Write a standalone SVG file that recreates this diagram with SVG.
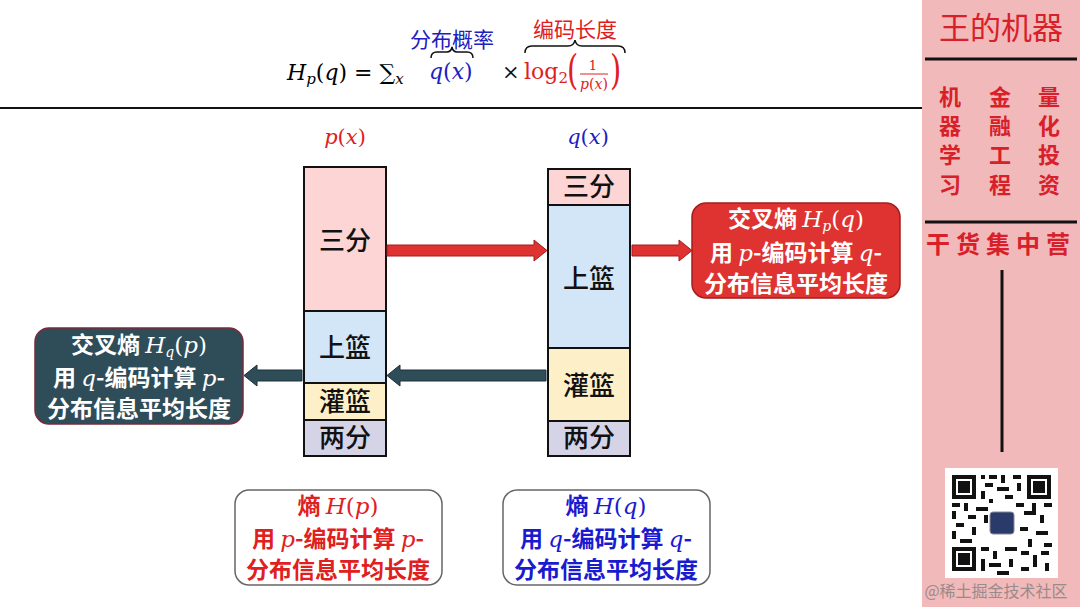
<svg xmlns="http://www.w3.org/2000/svg" width="1080" height="607" viewBox="0 0 1080 607">
<style>
.cn{font-family:"Noto Sans CJK SC","Noto Sans",sans-serif;}
.m{font-family:"DejaVu Serif","Liberation Serif",serif;font-style:italic;font-weight:400;}
.mr{font-family:"DejaVu Serif","Liberation Serif",serif;font-weight:400;}
.seg{stroke:#111;stroke-width:2;}
.lab{font-family:"Noto Sans CJK SC",sans-serif;font-size:26px;font-weight:500;fill:#111;text-anchor:middle;}
.bt{font-family:"Noto Sans CJK SC",sans-serif;font-size:23px;font-weight:700;text-anchor:middle;}
.side{font-family:"Noto Sans CJK SC",serif;font-weight:700;fill:#d8202a;text-anchor:middle;}
</style>
<rect width="1080" height="607" fill="#fff"/>
<!-- formula -->
<g id="formula">
<text x="287" y="80" font-size="22"><tspan class="m">H</tspan><tspan class="m" font-size="15" dy="4">p</tspan><tspan class="mr" dy="-4">(</tspan><tspan class="m">q</tspan><tspan class="mr">) = ∑</tspan><tspan class="m" font-size="15" dy="4">x</tspan></text>
<text x="429" y="79" font-size="22" fill="#2020c0" class="mr"><tspan class="m">q</tspan>(<tspan class="m">x</tspan>)</text>
<path d="M431 58 Q431 52 437 52 L447 52 Q451 52 452 47 Q453 52 457 52 L467 52 Q473 52 473 58" fill="none" stroke="#111" stroke-width="1.5"/>
<text x="452" y="47" class="cn" font-size="21" fill="#2020c0" text-anchor="middle">分布概率</text>
<text x="502" y="79" class="mr" font-size="21" fill="#111">×</text>
<text x="524" y="79" class="mr" font-size="22" fill="#e02020">log<tspan font-size="15" dy="4">2</tspan></text>
<text x="567" y="84" class="mr" font-size="36" fill="#e02020" transform="translate(567 84) scale(0.8 1.15) translate(-567 -84)">(</text>
<text x="593" y="70" class="mr" font-size="13" fill="#e02020" text-anchor="middle">1</text>
<line x1="580" y1="74" x2="608" y2="74" stroke="#e02020" stroke-width="1"/>
<text x="594" y="89" font-size="14" fill="#e02020" text-anchor="middle" class="mr"><tspan class="m">p</tspan>(<tspan class="m">x</tspan>)</text>
<text x="610" y="84" class="mr" font-size="36" fill="#e02020" transform="translate(610 84) scale(0.8 1.15) translate(-610 -84)">)</text>
<path d="M525 53 Q525 46 532 46 L568 46 Q574 46 575 40 Q576 46 582 46 L618 46 Q625 46 625 53" fill="none" stroke="#111" stroke-width="1.5"/>
<text x="575" y="37" class="cn" font-size="21" fill="#e02020" text-anchor="middle">编码长度</text>
</g>
<line x1="0" y1="108" x2="922" y2="108" stroke="#111" stroke-width="2"/>
<!-- column labels -->
<text x="345" y="144" font-size="21" fill="#e02020" text-anchor="middle" class="mr"><tspan class="m">p</tspan>(<tspan class="m">x</tspan>)</text>
<text x="588" y="144" font-size="21" fill="#2020c0" text-anchor="middle" class="mr"><tspan class="m">q</tspan>(<tspan class="m">x</tspan>)</text>
<!-- p column -->
<g id="p-col">
<rect class="seg" x="304" y="167" width="82" height="144" fill="#fcd5d4"/>
<rect class="seg" x="304" y="311" width="82" height="72" fill="#d3e6f8"/>
<rect class="seg" x="304" y="383" width="82" height="37" fill="#fdf0c9"/>
<rect class="seg" x="304" y="420" width="82" height="36" fill="#d5d3e6"/>
<text class="lab" x="345" y="250">三分</text>
<text class="lab" x="345" y="357">上篮</text>
<text class="lab" x="345" y="411">灌篮</text>
<text class="lab" x="345" y="447">两分</text>
</g>
<!-- q column -->
<g id="q-col">
<rect class="seg" x="548" y="169" width="82" height="36" fill="#fcd5d4"/>
<rect class="seg" x="548" y="205" width="82" height="143" fill="#d3e6f8"/>
<rect class="seg" x="548" y="348" width="82" height="73" fill="#fdf0c9"/>
<rect class="seg" x="548" y="421" width="82" height="35" fill="#d5d3e6"/>
<text class="lab" x="589" y="196">三分</text>
<text class="lab" x="589" y="288">上篮</text>
<text class="lab" x="589" y="395">灌篮</text>
<text class="lab" x="589" y="447">两分</text>
</g>
<!-- connectors -->
<g id="connectors">
<polygon points="387,245 534,245 534,240 547,250.5 534,261 534,256 387,256" fill="#de3330" stroke="#a51c1c" stroke-width="1"/>
<polygon points="632,245 679,245 679,240 692,250.5 679,261 679,256 632,256" fill="#de3330" stroke="#a51c1c" stroke-width="1"/>
<polygon points="546,370 400,370 400,365 387,375.5 400,386 400,381 546,381" fill="#2f4d58" stroke="#1e3038" stroke-width="1"/>
<polygon points="302,370 257,370 257,365 244,375.5 257,386 257,381 302,381" fill="#2f4d58" stroke="#1e3038" stroke-width="1"/>
</g>
<!-- red box -->
<g id="cross-pq">
<rect x="692" y="203" width="208" height="95" rx="14" fill="#de3330" stroke="#a51c1c" stroke-width="1.5"/>
<text class="bt" x="796" y="227" fill="#fff" font-size="21">交叉熵 <tspan class="m">H</tspan><tspan class="m" font-size="14" dy="4">p</tspan><tspan class="mr" dy="-4">(</tspan><tspan class="m">q</tspan><tspan class="mr">)</tspan></text>
<text class="bt" x="796" y="261" fill="#fff">用 <tspan class="m">p</tspan>-编码计算 <tspan class="m">q</tspan>-</text>
<text class="bt" x="796" y="292" fill="#fff">分布信息平均长度</text>
</g>
<!-- teal box -->
<g id="cross-qp">
<rect x="35" y="328" width="208" height="96" rx="14" fill="#2f4d58" stroke="#7a2a3a" stroke-width="1.5"/>
<text class="bt" x="139" y="353" fill="#fff" font-size="21">交叉熵 <tspan class="m">H</tspan><tspan class="m" font-size="14" dy="4">q</tspan><tspan class="mr" dy="-4">(</tspan><tspan class="m">p</tspan><tspan class="mr">)</tspan></text>
<text class="bt" x="139" y="386" fill="#fff">用 <tspan class="m">q</tspan>-编码计算 <tspan class="m">p</tspan>-</text>
<text class="bt" x="139" y="417" fill="#fff">分布信息平均长度</text>
</g>
<!-- bottom boxes -->
<g id="entropy-p">
<rect x="235" y="490" width="207" height="95" rx="14" fill="#fff" stroke="#666" stroke-width="1.5"/>
<text class="bt" x="338" y="514" fill="#e02020" font-size="21">熵 <tspan class="m">H</tspan><tspan class="mr">(</tspan><tspan class="m">p</tspan><tspan class="mr">)</tspan></text>
<text class="bt" x="338" y="547" fill="#e02020" font-size="22">用 <tspan class="m">p</tspan>-编码计算 <tspan class="m">p</tspan>-</text>
<text class="bt" x="338" y="578" fill="#e02020" font-size="22">分布信息平均长度</text>
</g>
<g id="entropy-q">
<rect x="503" y="490" width="207" height="95" rx="14" fill="#fff" stroke="#666" stroke-width="1.5"/>
<text class="bt" x="606" y="514" fill="#1a1ad0" font-size="21">熵 <tspan class="m">H</tspan><tspan class="mr">(</tspan><tspan class="m">q</tspan><tspan class="mr">)</tspan></text>
<text class="bt" x="606" y="547" fill="#1a1ad0" font-size="22">用 <tspan class="m">q</tspan>-编码计算 <tspan class="m">q</tspan>-</text>
<text class="bt" x="606" y="578" fill="#1a1ad0" font-size="22">分布信息平均长度</text>
</g>
<!-- side panel -->
<g id="side-panel">
<rect x="922" y="0" width="158" height="607" fill="#f1b9b9"/>
<text x="1001" y="39" class="cn" font-size="31" fill="#d8202a" text-anchor="middle">王的机器</text>
<line x1="925" y1="59" x2="1077" y2="59" stroke="#111" stroke-width="3"/>
<g class="side" font-size="22">
<text x="950" y="105">机</text><text x="950" y="134">器</text><text x="950" y="163">学</text><text x="950" y="193">习</text>
<text x="1000" y="105">金</text><text x="1000" y="134">融</text><text x="1000" y="163">工</text><text x="1000" y="193">程</text>
<text x="1049" y="105">量</text><text x="1049" y="134">化</text><text x="1049" y="163">投</text><text x="1049" y="193">资</text>
</g>
<line x1="925" y1="222" x2="1077" y2="222" stroke="#111" stroke-width="3"/>
<text x="1001" y="253" class="side" font-size="24" letter-spacing="6">干货集中营</text>
<line x1="1002" y1="270" x2="1002" y2="452" stroke="#111" stroke-width="3"/>
<rect x="945" y="468" width="113" height="110" fill="#fff"/>
<g fill="#111">
<path d="M952 475h24v24h-24z M956 479v16h16v-16z M958 481h12v12h-12z" fill-rule="evenodd"/>
<path d="M1027 475h24v24h-24z M1031 479v16h16v-16z M1033 481h12v12h-12z" fill-rule="evenodd"/>
<path d="M952 547h24v24h-24z M956 551v16h16v-16z M958 553h12v12h-12z" fill-rule="evenodd"/>
<path d="M981 475h4v4h-4zM989 475h8v4h-8zM1001 475h4v8h-4zM1013 475h8v4h-8zM985 483h8v4h-8zM997 487h12v4h-12zM1017 483h4v8h-4zM981 491h4v8h-4zM1005 495h8v4h-8zM989 499h4v4h-4z
M952 503h8v4h-8zM964 503h4v8h-4zM976 507h12v4h-12zM952 511h4v8h-4zM968 515h8v4h-8zM984 515h4v8h-4zM1016 503h8v4h-8zM1032 503h4v8h-4zM1044 503h8v4h-8zM1024 511h12v4h-12zM1040 515h4v8h-4z
M956 523h8v4h-8zM972 527h4v8h-4zM952 531h4v8h-4zM960 539h12v4h-12zM1020 527h8v4h-8zM1036 531h12v4h-12zM1028 539h4v8h-4zM1044 543h8v4h-8z
M981 547h8v4h-8zM993 551h4v8h-4zM1005 547h12v4h-12zM981 559h4v12h-4zM989 563h12v4h-12zM1009 559h4v8h-4zM1021 551h8v4h-8zM1033 555h4v12h-4zM1041 551h8v4h-8zM1021 567h8v4h-8zM1045 563h4v8h-4zM997 571h12v4h-12z"/>
</g>
<rect x="990" y="512" width="24" height="22" rx="3" fill="#2a3a6a" stroke="#889" stroke-width="1"/>
<text x="996" y="597" class="cn" font-size="16" fill="#9a8a8a" text-anchor="middle">@稀土掘金技术社区</text>
</g>
</svg>
